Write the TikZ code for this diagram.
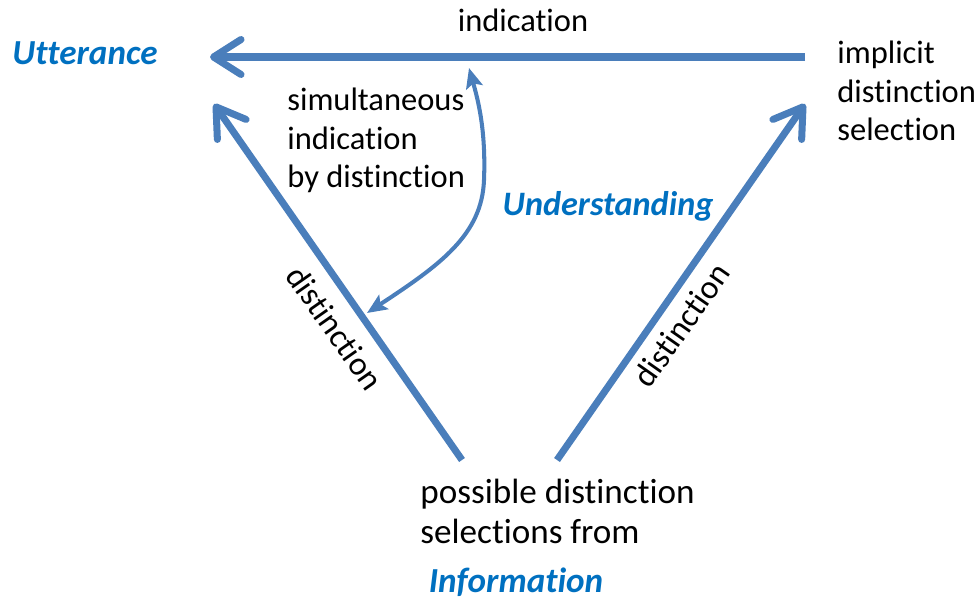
\documentclass[tikz,border=0pt]{standalone}
\usepackage{fontspec}
\setmainfont{Carlito}[Ligatures=NoCommon]
\usetikzlibrary{arrows.meta}
\definecolor{arrowblue}{HTML}{4A7EBB}
\definecolor{labelblue}{HTML}{0070C0}
\begin{document}
\begin{tikzpicture}[x=0.02cm,y=-0.02cm,
  txt/.style={font=\fontsize{20}{22.7}\selectfont, inner sep=0pt, align=left},
  smalltxt/.style={font=\fontsize{18.5}{22.1}\selectfont, inner sep=0pt, align=left},
  concept/.style={font=\fontsize{20}{22.7}\selectfont\bfseries\itshape, text=labelblue, inner sep=0pt},
  flow/.style={draw=arrowblue, line width=4pt, line cap=butt,
    -{Straight Barb[length=0.55cm, width=0.7cm, round]}},
  link/.style={draw=arrowblue, line width=2.3pt,
    {Stealth[length=0.4cm, width=0.34cm, inset=0.08cm]}-{Stealth[length=0.4cm, width=0.34cm, inset=0.08cm]}}]
\useasboundingbox (0,0) rectangle (979,601);

% labels (base anchors of multi-line nodes sit on the last line)
\node[concept, anchor=base] (utt) at (85,65) {Utterance};
\node[smalltxt, anchor=base] (ind) at (523,32) {indication};
\node[smalltxt, anchor=base west] (impl) at (837,141) {implicit\\distinction\\selection};
\node[smalltxt, anchor=base west] (sim) at (287,188) {simultaneous\\indication\\by distinction};
\node[concept, font=\fontsize{19.5}{22.7}\selectfont\bfseries\itshape, anchor=base] (und) at (608,215) {Understanding};
\node[txt, anchor=base west] (poss) at (420,543) {possible distinction\\selections from};
\node[concept, anchor=base] (info) at (516,592) {Information};
\node[smalltxt, font=\fontsize{19}{22.7}\selectfont, rotate=-55] (dl) at (335,328) {distinction};
\node[smalltxt, font=\fontsize{19}{22.7}\selectfont, rotate=55] (dr) at (681,325) {distinction};

% arrow end points
\coordinate (topS) at (805,57);
\coordinate (topE) at (210,57);
\coordinate (leftS) at (462,460);
\coordinate (leftE) at (214,104);
\coordinate (rightS) at (557,460);
\coordinate (rightE) at (805,104);
\coordinate (curA) at (367,313);
\coordinate (curB) at (469,68);

% arrows
\draw[flow] (topS) -- (topE);
\draw[flow] (leftS) -- (leftE);
\draw[flow] (rightS) -- (rightE);
\draw[link] (curA) .. controls (440,265) and (482,235) .. (484,180)
  .. controls (486,130) and (478,100) .. (curB);
\end{tikzpicture}
\end{document}
